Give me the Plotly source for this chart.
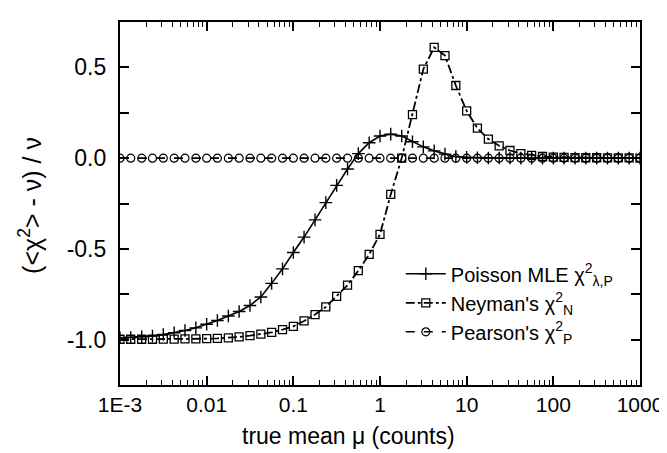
import plotly.graph_objects as go

# --- data ---
mu = [0.001, 0.00133, 0.00178, 0.00237, 0.00316, 0.00422, 0.00562, 0.0075,
      0.01, 0.0133, 0.0178, 0.0237, 0.0316, 0.0422, 0.0562, 0.075,
      0.1, 0.133, 0.178, 0.237, 0.316, 0.422, 0.562, 0.75,
      1, 1.33, 1.78, 2.37, 3.16, 4.22, 5.62, 7.5,
      10, 13.3, 17.8, 23.7, 31.6, 42.2, 56.2, 75,
      100, 133, 178, 237, 316, 422, 562, 750,
      1000]

poisson_mle = [-0.99, -0.988, -0.985, -0.98, -0.972, -0.962, -0.95, -0.935,
               -0.915, -0.895, -0.87, -0.845, -0.812, -0.765, -0.69, -0.61,
               -0.52, -0.435, -0.34, -0.245, -0.15, -0.06, 0.025, 0.085,
               0.122, 0.132, 0.122, 0.09, 0.062, 0.04, 0.022, 0.008,
               0.004, 0.002, 0.001, 0.001, 0.001, 0.0, 0.0, 0.0,
               0.0, 0.0, 0.0, 0.0, 0.0, 0.0, 0.0, 0.0,
               0.0]

neyman = [-0.998, -0.998, -0.998, -0.998, -0.997, -0.997, -0.996, -0.996,
          -0.995, -0.993, -0.99, -0.985, -0.978, -0.97, -0.96, -0.945,
          -0.927, -0.897, -0.862, -0.82, -0.762, -0.7, -0.62, -0.53,
          -0.42, -0.2, 0.0, 0.24, 0.49, 0.61, 0.565, 0.40,
          0.26, 0.165, 0.105, 0.068, 0.042, 0.025, 0.015, 0.009,
          0.006, 0.004, 0.003, 0.002, 0.002, 0.001, 0.001, 0.001,
          0.0]

pearson = [0.0, 0.0, 0.0, 0.0, 0.0, 0.0, 0.0, 0.0,
           0.0, 0.0, 0.0, 0.0, 0.0, 0.0, 0.0, 0.0,
           0.0, 0.0, 0.0, 0.0, 0.0, 0.0, 0.0, 0.0,
           0.0, 0.0, 0.0, 0.0, 0.0, 0.0, 0.0, 0.0,
           0.0, 0.0, 0.0, 0.0, 0.0, 0.0, 0.0, 0.0,
           0.0, 0.0, 0.0, 0.0, 0.0, 0.0, 0.0, 0.0,
           0.0]

x_tickvals = [0.001, 0.01, 0.1, 1, 10, 100, 1000]
x_ticktext = ["1E-3", "0.01", "0.1", "1", "10", "100", "1000"]
y_tickvals = [-1.0, -0.5, 0.0, 0.5]
y_ticktext = ["-1.0", "-0.5", "0.0", "0.5"]

FONT = "Liberation Sans, Arial, Helvetica, sans-serif"

fig = go.Figure()

fig.add_trace(go.Scatter(
    x=mu, y=poisson_mle, mode="lines+markers",
    name="Poisson MLE χ<sup>2</sup><sub>λ,P</sub>",
    line=dict(color="black", width=1.6),
    marker=dict(symbol="cross-thin-open", size=9, line=dict(color="black", width=1.4)),
))
fig.add_trace(go.Scatter(
    x=mu, y=neyman, mode="lines+markers",
    name="Neyman's χ<sup>2</sup><sub>N</sub>",
    line=dict(color="black", width=1.8, dash="dashdot"),
    marker=dict(symbol="square-open", size=8, color="black", line=dict(width=1.3)),
))
fig.add_trace(go.Scatter(
    x=mu, y=pearson, mode="lines+markers",
    name="Pearson's χ<sup>2</sup><sub>P</sub>",
    line=dict(color="black", width=1.6, dash="dash"),
    marker=dict(symbol="circle-open", size=8, color="black", line=dict(width=1.2)),
))

# minor ticks of the log axis (2..9 in every decade)
minor_x = [m * d for d in x_tickvals[:-1] for m in range(2, 10)]

fig.update_layout(
    width=667, height=453,
    margin=dict(l=112, r=31, t=12, b=76),
    paper_bgcolor="white", plot_bgcolor="white",
    font=dict(family=FONT, size=22, color="black"),
    showlegend=True,
    legend=dict(
        x=0.54, y=0.36, xanchor="left", yanchor="top",
        bgcolor="rgba(0,0,0,0)", font=dict(size=20),
        tracegroupgap=0, itemwidth=40,
    ),
    xaxis=dict(
        type="log", range=[-3, 3],
        tickmode="array", tickvals=x_tickvals, ticktext=x_ticktext,
        ticks="inside", ticklen=9, tickwidth=1.8, tickcolor="black",
        minor=dict(tickmode="array", tickvals=minor_x, ticks="inside",
                   ticklen=5, tickwidth=1.4, tickcolor="black", showgrid=False),
        showline=True, linecolor="black", linewidth=2.2, mirror="allticks",
        showgrid=False, zeroline=False,
        tickfont=dict(size=21),
    ),
    yaxis=dict(
        range=[-1.25, 0.75],
        tickmode="array", tickvals=y_tickvals, ticktext=y_ticktext,
        ticks="inside", ticklen=9, tickwidth=1.8, tickcolor="black",
        minor=dict(dtick=0.25, ticks="inside", ticklen=9, tickwidth=1.8,
                   tickcolor="black", showgrid=False),
        showline=True, linecolor="black", linewidth=2.2, mirror="allticks",
        showgrid=False, zeroline=False,
        tickfont=dict(size=23), ticklabelstandoff=7,
    ),
    annotations=[
        dict(text="true mean μ (counts)", x=0.44, y=-0.14,
             xref="paper", yref="paper", xanchor="center", yanchor="middle",
             showarrow=False, font=dict(size=23)),
        dict(text="(&lt;χ<sup>2</sup>&gt; - ν) / ν", x=-0.172, y=0.495,
             xref="paper", yref="paper", xanchor="center", yanchor="middle",
             textangle=-90, showarrow=False, font=dict(size=25)),
    ],
)

fig.write_html("out.html")
